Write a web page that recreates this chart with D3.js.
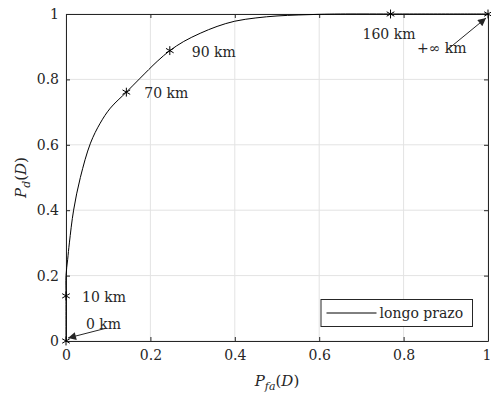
<!DOCTYPE html>
<html>
<head>
<meta charset="utf-8">
<script src="https://cdn.jsdelivr.net/npm/d3@7"></script>
<style>
  body { margin: 0; background: #fff; }
</style>
</head>
<body>
<div id="chart"></div>
<script>
// ROC curve (long term)
const pfa = [0, 0, 0, 0.004, 0.008, 0.018, 0.034, 0.058, 0.081, 0.105, 0.143,
  0.176, 0.216, 0.246, 0.279, 0.318, 0.358, 0.4, 0.45, 0.5, 0.55, 0.6, 0.65, 0.769, 1];
const pd = [0, 0.138, 0.2, 0.25, 0.3, 0.4, 0.5, 0.605, 0.666, 0.712, 0.761,
  0.804, 0.855, 0.888, 0.916, 0.941, 0.962, 0.978, 0.988, 0.994, 0.997, 0.999, 1, 1, 1];

// marked distances
const markLabels = ["0 km", "10 km", "70 km", "90 km", "160 km", "+\u221E km"];
const markPfa = [0, 0, 0.143, 0.246, 0.769, 1];
const markPd = [0, 0.138, 0.761, 0.888, 1, 1];

const xTicks = [0, 0.2, 0.4, 0.6, 0.8, 1];
const yTicks = [0, 0.2, 0.4, 0.6, 0.8, 1];

const FONT = "DejaVu Serif";

const margin = {top: 14, right: 3, bottom: 55, left: 66},
    width = 491 - margin.left - margin.right,
    height = 396 - margin.top - margin.bottom;

const svg = d3.select("#chart")
  .append("svg")
    .attr("width", 491)
    .attr("height", 396);

svg.append("defs").append("marker")
    .attr("id", "arrow")
    .attr("viewBox", "0 0 10 10")
    .attr("refX", 10).attr("refY", 5)
    .attr("markerWidth", 12).attr("markerHeight", 8)
    .attr("markerUnits", "userSpaceOnUse")
    .attr("orient", "auto")
  .append("path")
    .attr("d", "M0,0 L10,5 L0,10 Z")
    .attr("fill", "#262626");

const g = svg.append("g")
    .attr("transform", "translate(" + margin.left + "," + margin.top + ")");

const x = d3.scaleLinear().domain([0, 1]).range([0, width]);
const y = d3.scaleLinear().domain([0, 1]).range([height, 0]);

// grid
g.append("g").selectAll("line").data(xTicks).enter().append("line")
    .attr("x1", d => x(d)).attr("x2", d => x(d))
    .attr("y1", 0).attr("y2", height)
    .attr("stroke", "#e3e3e3");
g.append("g").selectAll("line").data(yTicks).enter().append("line")
    .attr("y1", d => y(d)).attr("y2", d => y(d))
    .attr("x1", 0).attr("x2", width)
    .attr("stroke", "#e3e3e3");

// axes (inward ticks on all sides)
function styleAxis(sel) {
  sel.attr("font-family", FONT);
  sel.selectAll("path").attr("stroke", "#262626");
  sel.selectAll("line").attr("stroke", "#262626");
  sel.selectAll("text").attr("font-size", 14).attr("fill", "#262626");
}
const fmt = d => d3.format("")(d);
g.append("g").attr("transform", "translate(0," + height + ")")
  .call(d3.axisBottom(x).tickValues(xTicks).tickFormat(fmt).tickSizeInner(-4).tickSizeOuter(0).tickPadding(9))
  .call(styleAxis)
  .selectAll("text").filter(d => d === 1).attr("dx", -1.5);
g.append("g")
  .call(d3.axisLeft(y).tickValues(yTicks).tickFormat(fmt).tickSizeInner(-4).tickSizeOuter(0).tickPadding(7))
  .call(styleAxis);
g.append("g")
  .call(d3.axisTop(x).tickValues(xTicks).tickFormat("").tickSizeInner(-4).tickSizeOuter(0))
  .call(styleAxis);
g.append("g").attr("transform", "translate(" + width + ",0)")
  .call(d3.axisRight(y).tickValues(yTicks).tickFormat("").tickSizeInner(-4).tickSizeOuter(0))
  .call(styleAxis);

// curve
const pts = pfa.map((v, i) => [v, pd[i]]);
g.append("path")
  .datum(pts)
  .attr("fill", "none")
  .attr("stroke", "#000")
  .attr("stroke-width", 1)
  .attr("d", d3.line().x(d => x(d[0])).y(d => y(d[1])).curve(d3.curveCatmullRom.alpha(0.5)));

// markers
const marks = markLabels.map((l, i) => ({label: l, px: markPfa[i], py: markPd[i]}));
g.selectAll(".mk").data(marks).enter().append("path")
  .attr("class", "mk")
  .attr("transform", d => "translate(" + x(d.px) + "," + y(d.py) + ")")
  .attr("d", d3.symbol(d3.symbolAsterisk, 55))
  .attr("fill", "none")
  .attr("stroke", "#000")
  .attr("stroke-width", 1);

// labels
const lblOff = {
  "0 km": [20, -12],
  "10 km": [16, 6],
  "70 km": [18, 6],
  "90 km": [22, 6],
  "160 km": [-28, 25],
  "+\u221E km": [-71, 39]
};
g.selectAll(".lbl").data(marks).enter().append("text")
  .attr("class", "lbl")
  .attr("x", d => x(d.px) + lblOff[d.label][0])
  .attr("y", d => y(d.py) + lblOff[d.label][1])
  .attr("font-family", FONT)
  .attr("font-size", 14)
  .attr("fill", "#262626")
  .text(d => d.label);

// arrows
g.append("line")
  .attr("x1", x(0) + 39).attr("y1", y(0) - 12.5)
  .attr("x2", x(0) + 2).attr("y2", y(0) - 3)
  .attr("stroke", "#262626").attr("marker-end", "url(#arrow)");
g.append("line")
  .attr("x1", x(1) - 41).attr("y1", y(1) + 36)
  .attr("x2", x(1) - 2).attr("y2", y(1) + 4)
  .attr("stroke", "#262626").attr("marker-end", "url(#arrow)");

// legend
const lg = g.append("g").attr("transform", "translate(" + (321 - margin.left) + "," + (299.5 - margin.top) + ")");
lg.append("rect").attr("width", 151.5).attr("height", 27)
  .attr("fill", "#fff").attr("stroke", "#262626");
lg.append("line").attr("x1", 5.5).attr("x2", 55.5).attr("y1", 13.5).attr("y2", 13.5)
  .attr("stroke", "#000");
lg.append("text").attr("x", 58.5).attr("y", 18.5)
  .attr("font-family", FONT).attr("font-size", 14).attr("fill", "#262626")
  .text("longo prazo");

// axis labels
function mathLabel(sel, sub) {
  sel.attr("font-family", FONT).attr("font-size", 15).attr("fill", "#262626");
  sel.append("tspan").attr("font-style", "italic").text("P");
  sel.append("tspan").attr("font-style", "italic").attr("font-size", 11).attr("dy", 4).text(sub);
  sel.append("tspan").attr("dy", -4).text("(");
  sel.append("tspan").attr("font-style", "italic").text("D");
  sel.append("tspan").text(")");
}
svg.append("text")
  .attr("x", margin.left + width / 2)
  .attr("y", 386)
  .attr("text-anchor", "middle")
  .call(mathLabel, "fa");

svg.append("text")
  .attr("transform", "translate(26," + (margin.top + height / 2) + ") rotate(-90)")
  .attr("text-anchor", "middle")
  .call(mathLabel, "d");
</script>
</body>
</html>
